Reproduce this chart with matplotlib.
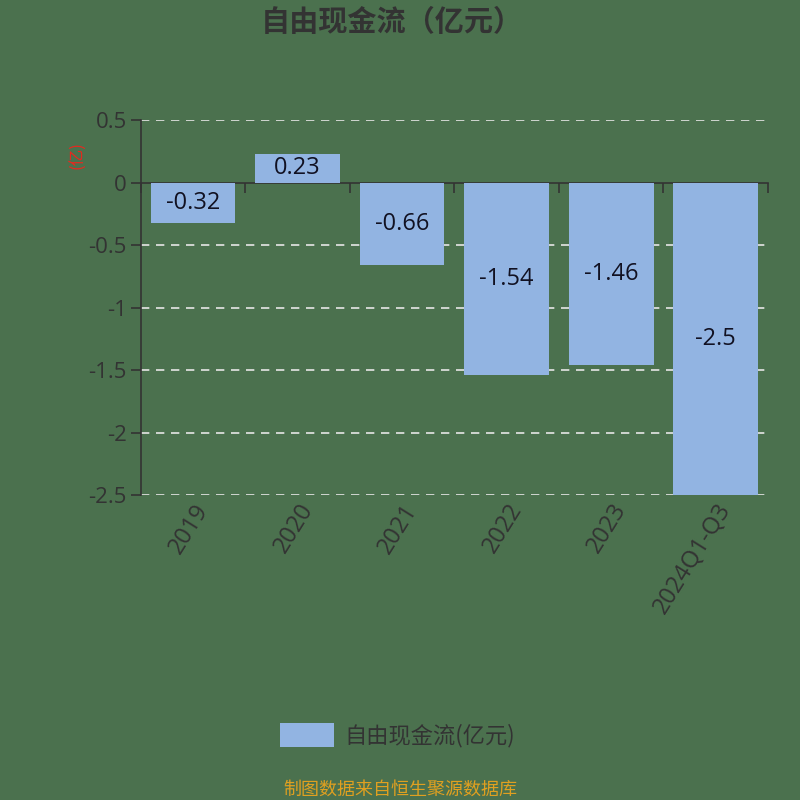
import matplotlib
matplotlib.use('Agg')
import matplotlib.pyplot as plt
from matplotlib.patches import FancyBboxPatch
from matplotlib.legend_handler import HandlerPatch
import numpy as np

plt.rcParams['font.family'] = ['Open Sans', 'Noto Sans CJK SC', 'DejaVu Sans']

categories = ['2019', '2020', '2021', '2022', '2023', '2024Q1-Q3']
values = [-0.32, 0.23, -0.66, -1.54, -1.46, -2.5]
value_labels = ['-0.32', '0.23', '-0.66', '-1.54', '-1.46', '-2.5']
yticks = [0.5, 0, -0.5, -1, -1.5, -2, -2.5]
ytick_labels = ['0.5', '0', '-0.5', '-1', '-1.5', '-2', '-2.5']

bg = '#4b714e'
bar_color = '#92b4e2'
axis_color = '#333333'
cjk = ['Noto Sans CJK SC', 'DejaVu Sans']


def rounded_handle(legend, orig, xdescent, ydescent, width, height, fontsize):
    return FancyBboxPatch((-xdescent, -ydescent), width, height,
                          boxstyle='round,pad=0,rounding_size=4')


fig = plt.figure(figsize=(8, 8), dpi=100, facecolor=bg)
ax = fig.add_axes([0.176, 0.381, 0.784, 0.469])
ax.set_facecolor(bg)

x = np.arange(len(categories))
bars = ax.bar(x, values, width=0.81, color=bar_color, zorder=3, label='自由现金流(亿元)')
for xi, v, lab in zip(x, values, value_labels):
    ax.text(xi, v / 2, lab, ha='center', va='center',
            fontsize=17, color='#111122', zorder=4)

ax.set_xlim(-0.5, len(categories) - 0.5)
ax.set_ylim(-2.5, 0.5)
ax.set_yticks(yticks)
ax.set_yticklabels(ytick_labels, fontsize=16, color=axis_color)
ax.tick_params(axis='y', length=7, color=axis_color, width=1.2, pad=3)
for t in yticks:
    if t != 0:
        ax.axhline(t, color='#e6e6e6', lw=1.2, ls=(0, (5, 4)), zorder=1)

ax.set_xticks(x)
ax.set_xticklabels(categories, rotation=58, ha='right', rotation_mode='anchor',
                   fontsize=17, color=axis_color)
ax.tick_params(axis='x', length=0, pad=3)

for s in ['top', 'right', 'bottom']:
    ax.spines[s].set_visible(False)
ax.spines['left'].set_color(axis_color)
ax.spines['left'].set_linewidth(1.2)

# zero line with boundary ticks
sec = ax.secondary_xaxis(2.5 / 3.0)
sec.set_xticks(np.arange(len(categories) + 1) - 0.5)
sec.set_xticklabels([])
sec.tick_params(axis='x', direction='in', length=7, color=axis_color, width=1.2)
sec.spines['bottom'].set_color(axis_color)
sec.spines['bottom'].set_linewidth(1.2)
sec.spines['top'].set_color(axis_color)
sec.spines['top'].set_linewidth(1.2)

fig.text(0.097, 0.806, '(亿)', rotation=90, color='#e8281e', fontsize=12,
         ha='center', va='center', family=cjk)

fig.text(0.49, 0.972, '自由现金流（亿元）', ha='center', va='center',
         fontsize=21, fontweight='bold', color='#333333', family=cjk)

ax.legend(loc='center', bbox_to_anchor=(0.41, -0.64),
          frameon=False, prop={'family': cjk, 'size': 16}, handlelength=2.4,
          handleheight=1.3, handletextpad=0.5, labelcolor='#333333',
          handler_map={type(bars.patches[0]): HandlerPatch(patch_func=rounded_handle)})

fig.text(0.5, 0.013, '制图数据来自恒生聚源数据库', ha='center', va='center',
         fontsize=13, color='#e0a020', family=cjk)

fig.savefig('out.png', dpi=100, facecolor=bg)
